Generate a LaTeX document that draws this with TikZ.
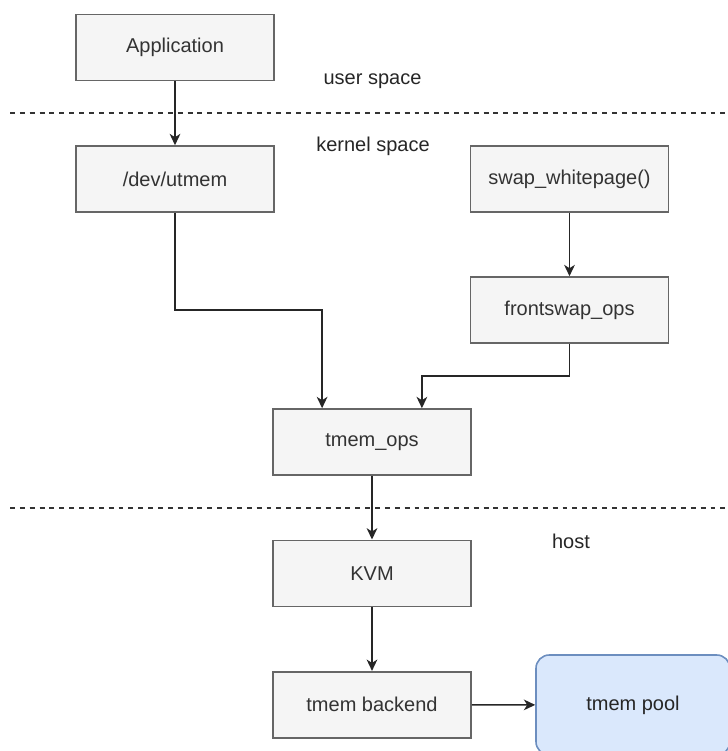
\documentclass[tikz,border=0pt]{standalone}
\usepackage{fontspec}
\setmainfont{Liberation Sans}
\usetikzlibrary{arrows.meta,calc}
\definecolor{boxfill}{HTML}{F5F5F5}
\definecolor{boxline}{HTML}{666666}
\definecolor{boxtext}{HTML}{333333}
\definecolor{poolfill}{HTML}{DAE8FC}
\definecolor{poolline}{HTML}{6C8EBF}
\tikzset{
  px/.style={x=0.75pt,y=-0.75pt},
  procbox/.style={draw=boxline,fill=boxfill,line width=1.2pt,
    minimum width=148.5pt,minimum height=49.5pt,inner sep=0pt,
    text=boxtext,font=\fontsize{15}{18}\selectfont},
  poolbox/.style={draw=poolline,fill=poolfill,line width=1.2pt,
    rounded corners=10pt,minimum width=145.5pt,minimum height=75pt,
    inner sep=0pt,text=black!85,font=\fontsize{15}{18}\selectfont},
  region/.style={text=black!85,font=\fontsize{15}{18}\selectfont,inner sep=0pt},
  divider/.style={line width=1.2pt,dash pattern=on 3.7pt off 3.7pt,draw=black!80},
  flow/.style={line width=1.2pt,draw=black!85,
    -{Stealth[length=8.5pt,width=8pt,inset=2.5pt]}},
}
\begin{document}
\begin{tikzpicture}[px]
\useasboundingbox (0,0) rectangle (728,751);
\begin{scope}
\clip (0,0) rectangle (728,751);

% layer dividers
\coordinate (d1a) at (10,113);
\coordinate (d1b) at (728,113);
\coordinate (d2a) at (10,508);
\coordinate (d2b) at (728,508);
\draw[divider] (d1a) -- (d1b);
\draw[divider] (d2a) -- (d2b);

% layer names
\node[region] (user) at (372.5,81.5) {user space};
\node[region] (kern) at (373,146.5) {kernel space};
\node[region] (host) at (571,541.5) {host};

% components
\node[procbox] (app) at (175,47.5) {Application};
\node[procbox] (dev) at (175,179) {/dev/utmem};
\node[procbox] (swap) at (569.5,179) {swap\_whitepage()};
\node[procbox] (fs) at (569.5,310) {frontswap\_ops};
\node[procbox] (ops) at (372,442) {tmem\_ops};
\node[procbox] (kvm) at (372,573.3) {KVM};
\node[procbox] (back) at (372,704.7) {tmem backend};
\node[poolbox] (pool) at (633,705) {tmem pool};

% entry points on top of tmem_ops
\coordinate (opsL) at ($(ops.north west)!0.25!(ops.north east)$);
\coordinate (opsR) at ($(ops.north west)!0.75!(ops.north east)$);
\coordinate (bendL) at ($(opsL)+(0,-98.5)$);
\coordinate (bendR) at ($(opsR)+(0,-32.5)$);

% call flow
\draw[flow] (app) -- (dev);
\draw[flow] (swap) -- (fs);
\draw[flow] (dev.south) |- (bendL) -- (opsL);
\draw[flow] (fs.south) |- (bendR) -- (opsR);
\draw[flow] (ops) -- (kvm);
\draw[flow] (kvm) -- (back);
\draw[flow] (back) -- (pool);
\end{scope}
\end{tikzpicture}
\end{document}
